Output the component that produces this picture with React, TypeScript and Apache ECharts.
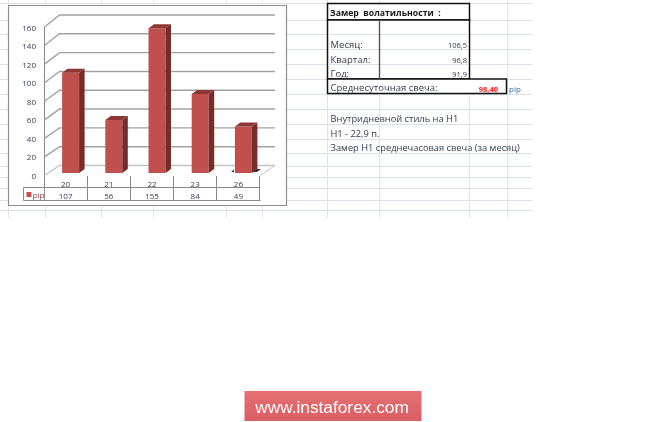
import React, { useEffect, useRef } from "react";
import * as echarts from "echarts";

const categories = ["20", "21", "22", "23", "26"];
const seriesName = "pip";
const pipValues = [107, 56, 155, 84, 49];
const wallTicks = [0, 20, 40, 60, 80, 100, 120, 140, 160];
const tableTitle = "Замер  волатильности  :";
const periodLabels = ["Месяц:", "Квартал:", "Год:"];
const periodValues = ["106,5", "96,8", "91,9"];
const dailyLabel = "Среднесуточная свеча:";
const dailyValue = "98,40";
const dailyUnit = "pip";
const notes = ["Внутридневной стиль на H1", "H1 - 22,9 п.", "Замер H1 среднечасовая свеча (за месяц)"];
const brand = "www.instaforex.com";

const sheetRows = [3, 20, 34, 49, 64, 79, 94, 109, 124, 139, 153, 166, 177, 188, 200, 210];
const sheetCols = [8, 45, 101, 153, 226, 262, 327, 379, 469, 507];
const periodRowY = [44, 59, 73];
const noteRowY = [118, 133, 147.5];

const FONT = "Open Sans";
const INK = "#333c54";
const line = (x1: number, y1: number, x2: number, y2: number, stroke: string, lineWidth: number, z: number) => ({
  type: "line", z, silent: true, shape: { x1, y1, x2, y2 }, style: { stroke, lineWidth },
});
const label = (text: string, x: number, y: number, fontSize: number, fill: string, extra: any = {}) => ({
  type: "text", z: 10, silent: true, x, y,
  style: { text, fontSize, fill, fontFamily: FONT, verticalAlign: "middle", textAlign: "left", ...extra },
});
const box = (x: number, y: number, width: number, height: number, lineWidth: number, stroke: string, fill: string, z: number) => ({
  type: "rect", z, silent: true, shape: { x, y, width, height }, style: { fill, stroke, lineWidth },
});

const renderWall = (_: any, api: any) => {
  const v = api.value(0);
  const y = api.coord([0, v])[1];
  const left = 44.5;
  const right = 275;
  const backY = y - 10 - (2 * v) / 160;
  const stroke = v === 0 ? "#c4c4c4" : "#a2a2a2";
  const children: any[] = [
    { type: "polyline", shape: { points: [[left, y], [left + 15, backY], [right, backY]] }, style: { fill: "none", stroke, lineWidth: 1.4 } },
  ];
  if (v === 0) {
    children.push({ type: "line", shape: { x1: 260, y1: y, x2: right, y2: backY }, style: { stroke, lineWidth: 1 } });
  }
  return { type: "group", children };
};

const renderBar = (_: any, api: any) => {
  const i = api.value(0);
  const v = api.value(1);
  const [cx, yTop0] = api.coord([i, v]);
  const yBase0 = api.coord([i, 0])[1];
  const w = 17;
  const x = cx + 5 - w / 2;
  const top = yTop0 - 3.5;
  const base = yBase0 - 2.5;
  const dx = 5.5;
  const dy = 4;
  return {
    type: "group",
    children: [
      { type: "polygon", shape: { points: [[x, top], [x + w, top], [x + w, base], [x, base]] }, style: { fill: "#c0504d" } },
      { type: "polygon", shape: { points: [[x + w, top], [x + w + dx, top - dy], [x + w + dx, base - dy], [x + w, base]] }, style: { fill: "#772c2a" } },
      { type: "polygon", shape: { points: [[x, top], [x + dx, top - dy], [x + w + dx, top - dy], [x + w, top]] }, style: { fill: "#8c3836" } },
    ],
  };
};

export default function App() {
  const ref = useRef<HTMLDivElement>(null);
  useEffect(() => {
    const chart = echarts.init(ref.current!, undefined, { renderer: "svg" });
    const graphics: any[] = [
      ...sheetRows.map((y) => line(0, y + 0.5, 532, y + 0.5, "#d9dfeb", 1, -10)),
      ...sheetCols.map((x) => line(x + 0.5, 0, x + 0.5, 218, "#dfe4ef", 1, -10)),
      box(8.5, 5.5, 278, 200, 1.2, "#8f8f8f", "#ffffff", -5),
      // data table under the plot
      line(44.5, 176, 44.5, 200, "#8a8a8a", 1, 1),
      line(44.5, 187.5, 260, 187.5, "#8a8a8a", 1, 1),
      line(23.5, 187.5, 44.5, 187.5, "#8a8a8a", 1, 1),
      line(23.5, 187.5, 23.5, 200.5, "#8a8a8a", 1, 1),
      line(23.5, 200.5, 260.5, 200.5, "#8a8a8a", 1, 1),
      ...[87.5, 130.5, 173.5, 216.5, 259.5].map((x) => line(x, 176, x, 200, "#8a8a8a", 1, 1)),
      // legend key of the data table
      { type: "rect", z: 10, silent: true, shape: { x: 26.5, y: 192, width: 5, height: 5 }, style: { fill: "#c0504d" } },
      label(seriesName, 32.5, 194.5, 8, "#8f4a4a"),
      // shadow under the last bar
      { type: "polygon", z: 1, silent: true, shape: { points: [[231, 172], [234, 169.5], [234, 172]] }, style: { fill: "#333" } },
      { type: "polygon", z: 1, silent: true, shape: { points: [[252, 172], [256, 169], [261, 169], [257, 172]] }, style: { fill: "#333" } },
      // volatility table
      box(327.5, 3.5, 142, 16.5, 1.5, "#111111", "#ffffff", -4),
      box(327.5, 20, 142, 59, 1.5, "#111111", "#ffffff", -4),
      ...[34, 49, 64].map((y) => line(380, y + 0.5, 469, y + 0.5, "#d9dfeb", 1, -3)),
      ...[34, 49, 64].map((y) => line(328, y + 0.5, 379, y + 0.5, "#d9dfeb", 1, -3)),
      line(379.5, 20, 379.5, 79, "#555555", 1.4, -3),
      box(327.5, 79, 179, 14.5, 1.5, "#111111", "#ffffff", -4),
      label(tableTitle, 330, 12.5, 8.7, "#1a1a1a", { fontWeight: "bold" }),
      ...periodLabels.map((t, i) => label(t, 330.5, periodRowY[i], 9.5, INK)),
      ...periodValues.map((t, i) => label(t, 467, periodRowY[i] + 1, 7.5, INK, { textAlign: "right" })),
      label(dailyLabel, 330.5, 87.5, 9.5, INK),
      label(dailyValue, 498, 88.5, 7.5, "#ff1f1f", { textAlign: "right", fontWeight: "bold" }),
      label(dailyUnit, 509, 88.5, 8, "#3c6aa8"),
      ...notes.map((t, i) => label(t, 330.5, noteRowY[i], 9.3, INK)),
      // brand plate
      {
        type: "rect", z: 5, silent: true, shape: { x: 244.5, y: 391, width: 177, height: 30 },
        style: {
          fill: new echarts.graphic.LinearGradient(0, 0, 0, 1, [
            { offset: 0, color: "#e56f73" },
            { offset: 1, color: "#da5f64" },
          ]),
        },
      },
      label(brand, 332, 406.5, 17.3, "#ffffff", { textAlign: "center", fontFamily: "Liberation Sans" }),
    ];
    chart.setOption({
      animation: false,
      backgroundColor: "#ffffff",
      textStyle: { fontFamily: FONT },
      grid: { left: 44, top: 27, width: 216, height: 148.5 },
      xAxis: [
        {
          type: "category", data: categories, position: "bottom",
          axisLine: { show: false }, axisTick: { show: false },
          axisLabel: { fontSize: 8, color: INK, margin: 3.5 },
        },
        {
          type: "category", data: pipValues.map(String), position: "bottom", offset: 12,
          axisLine: { show: false }, axisTick: { show: false },
          axisLabel: { fontSize: 8, color: INK, margin: 3.5 },
        },
      ],
      yAxis: {
        type: "value", min: 0, max: 160, interval: 20, splitLine: { show: false },
        axisLine: { show: true, lineStyle: { color: "#8a8a8a", width: 1 } }, axisTick: { show: false },
        axisLabel: { fontSize: 8, color: INK, margin: 8 },
      },
      graphic: { elements: graphics },
      series: [
        {
          type: "custom", name: "walls", z: 1, silent: true, renderItem: renderWall,
          data: wallTicks.map((v) => [v]), encode: { y: 0 },
        },
        {
          type: "custom", name: seriesName, z: 3, silent: true, renderItem: renderBar,
          data: pipValues.map((v, i) => [i, v]), encode: { x: 0, y: 1 },
        },
      ],
    });
    return () => chart.dispose();
  }, []);
  return <div ref={ref} style={{ position: "fixed", left: 0, top: 0, width: 665, height: 422, filter: "blur(0.35px)" }} />;
}
